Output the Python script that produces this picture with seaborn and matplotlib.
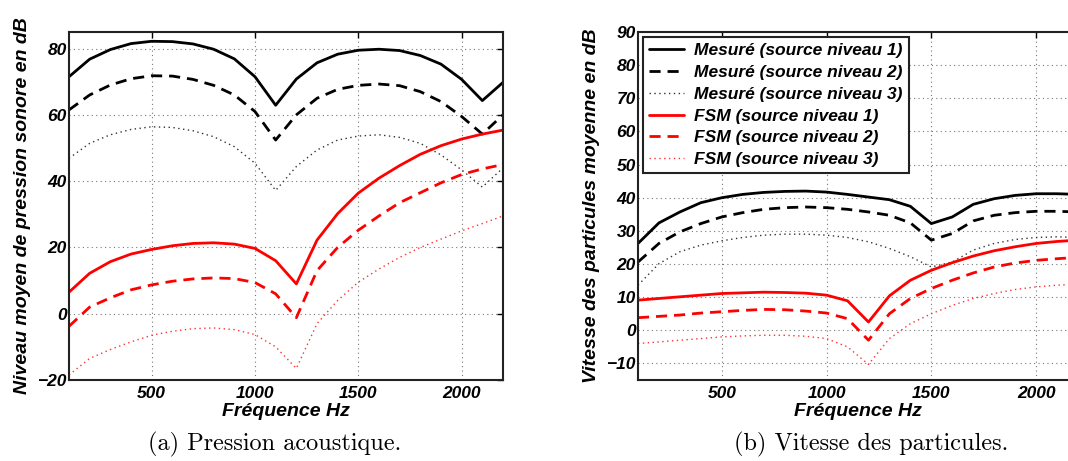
import numpy as np
import pandas as pd
import matplotlib
matplotlib.use("Agg")
import matplotlib.pyplot as plt
import seaborn as sns

freq = list(range(100, 2300, 100))

# (a) pression acoustique, dB
p_mes1 = [71.5, 76.8, 79.7, 81.5, 82.2, 82.1, 81.4, 79.8, 76.9, 71.5, 62.9,
          70.8, 75.7, 78.3, 79.5, 79.8, 79.4, 77.9, 75.3, 70.7, 64.3, 69.8]
p_mes2 = [61.5, 66.0, 69.0, 70.9, 71.8, 71.7, 70.7, 68.9, 66.0, 61.0, 52.4,
          60.0, 65.0, 67.7, 68.9, 69.3, 68.8, 67.0, 64.0, 59.5, 54.2, 60.0]
p_mes3 = [46.9, 51.4, 54.0, 55.6, 56.4, 56.2, 55.2, 53.4, 50.4, 45.4, 37.2,
          44.4, 49.4, 52.4, 53.6, 54.0, 53.2, 51.4, 47.9, 43.4, 38.2, 44.0]
p_fsm1 = [6.5, 12.2, 15.7, 18.0, 19.4, 20.5, 21.2, 21.4, 21.0, 19.7, 16.0,
          9.0, 22.2, 30.2, 36.4, 40.9, 44.7, 48.1, 50.7, 52.7, 54.2, 55.4]
p_fsm2 = [-3.8, 2.0, 4.8, 7.2, 8.7, 9.8, 10.5, 10.8, 10.6, 9.4, 6.0,
          -1.2, 13.0, 20.0, 25.2, 29.5, 33.5, 36.5, 39.5, 42.0, 43.7, 45.0]
p_fsm3 = [-18.5, -13.5, -10.8, -8.5, -6.5, -5.3, -4.5, -4.3, -4.8, -6.3, -10.0,
          -16.5, -3.0, 4.0, 9.5, 13.5, 17.0, 20.0, 22.5, 25.0, 27.2, 29.5]

# (b) vitesse des particules, dB
v_mes1 = [26.2, 32.4, 35.7, 38.5, 40.0, 41.0, 41.6, 41.9, 42.0, 41.7, 41.0,
          40.2, 39.4, 37.4, 32.2, 34.2, 38.0, 39.7, 40.7, 41.2, 41.2, 41.0]
v_mes2 = [20.6, 26.2, 29.7, 32.2, 34.2, 35.5, 36.5, 37.0, 37.2, 37.0, 36.5,
          35.7, 34.7, 32.4, 27.2, 29.2, 33.0, 34.7, 35.5, 35.9, 35.9, 35.7]
v_mes3 = [13.6, 20.1, 23.7, 25.7, 27.0, 28.0, 28.7, 29.0, 29.0, 28.7, 28.0,
          26.7, 24.7, 22.2, 19.1, 20.6, 24.2, 26.2, 27.4, 28.0, 28.2, 28.0]
v_fsm1 = [9.1, 9.6, 10.1, 10.6, 11.1, 11.3, 11.5, 11.4, 11.2, 10.6, 8.9,
          2.5, 10.4, 15.1, 18.1, 20.4, 22.4, 24.0, 25.2, 26.2, 26.8, 27.2]
v_fsm2 = [3.8, 4.2, 4.6, 5.2, 5.6, 6.0, 6.3, 6.2, 5.8, 5.2, 3.5,
          -3.0, 5.0, 9.6, 12.6, 15.1, 17.3, 19.1, 20.3, 21.1, 21.6, 22.0]
v_fsm3 = [-4.0, -3.5, -3.0, -2.5, -2.0, -1.7, -1.5, -1.5, -1.8, -2.5, -5.0,
          -10.3, -2.5, 2.0, 5.0, 7.5, 9.6, 11.1, 12.3, 13.1, 13.6, 13.9]

labels = ["Mesuré (source niveau 1)", "Mesuré (source niveau 2)",
          "Mesuré (source niveau 3)", "FSM (source niveau 1)",
          "FSM (source niveau 2)", "FSM (source niveau 3)"]

sns.set_theme(style="white")
plt.rcParams["font.family"] = ["Liberation Sans", "DejaVu Sans"]
plt.rcParams["font.weight"] = "bold"
plt.rcParams["font.style"] = "italic"
plt.rcParams["text.color"] = "black"
plt.rcParams["axes.labelcolor"] = "black"
plt.rcParams["xtick.color"] = "black"
plt.rcParams["ytick.color"] = "black"

styles = [("black", "-", 2.0), ("black", (0, (4, 2.5)), 2.0), ("#333333", (0, (1, 2.5)), 1.0),
          ("red", "-", 2.0), ("red", (0, (4, 2.5)), 2.0), ("#ff3030", (0, (1, 2.5)), 1.0)]


def draw(ax, series, ylim, yticks, ylabel):
    for vals, lab, (c, ls, lw) in zip(series, labels, styles):
        df = pd.DataFrame({"f": freq, "db": vals})
        sns.lineplot(data=df, x="f", y="db", ax=ax, color=c, linestyle=ls,
                     linewidth=lw, label=lab, legend=False)
    ax.set_xlim(100, 2200)
    ax.set_ylim(*ylim)
    ax.set_xticks([500, 1000, 1500, 2000])
    ax.set_yticks(yticks)
    ax.grid(True, color="#777777", linestyle=(0, (1, 3)), linewidth=0.8)
    ax.tick_params(direction="in", top=True, right=True, length=4, width=1,
                   labelsize=12.5, pad=4)
    ax.tick_params(axis="y", pad=1.5)
    for s in ax.spines.values():
        s.set_color("#222222")
        s.set_linewidth(1.5)
    ax.set_xlabel("Fréquence Hz", fontsize=14, fontweight="bold", labelpad=2)
    ax.set_ylabel(ylabel, fontsize=14, fontweight="bold", labelpad=5)


fig = plt.figure(figsize=(10.68, 4.61), dpi=100)
ax1 = fig.add_axes([69 / 1068, 1 - 380 / 461, 434 / 1068, 348 / 461])
ax2 = fig.add_axes([638 / 1068, 1 - 380 / 461, 440 / 1068, 348 / 461])

draw(ax1, [p_mes1, p_mes2, p_mes3, p_fsm1, p_fsm2, p_fsm3], (-20, 85),
     [-20, 0, 20, 40, 60, 80], "Niveau moyen de pression sonore en dB")
draw(ax2, [v_mes1, v_mes2, v_mes3, v_fsm1, v_fsm2, v_fsm3], (-15, 90),
     list(range(-10, 100, 10)), "Vitesse des particules moyenne en dB")

leg = ax2.legend(loc="upper left", fontsize=12.5, handlelength=2.0,
                 labelspacing=0.38, borderpad=0.35, handletextpad=0.6,
                 fancybox=False, framealpha=1, borderaxespad=0.3)
leg.get_frame().set_edgecolor("#222222")
leg.get_frame().set_linewidth(1.5)

fig.text(275 / 1068, 1 - 444 / 461, "(a) Pression acoustique.", family="cmr10",
         fontsize=17.5, weight="normal", style="normal", ha="center", va="center")
fig.text(871 / 1068, 1 - 444 / 461, "(b) Vitesse des particules.", family="cmr10",
         fontsize=17.5, weight="normal", style="normal", ha="center", va="center")

fig.savefig("out.png", dpi=100)
